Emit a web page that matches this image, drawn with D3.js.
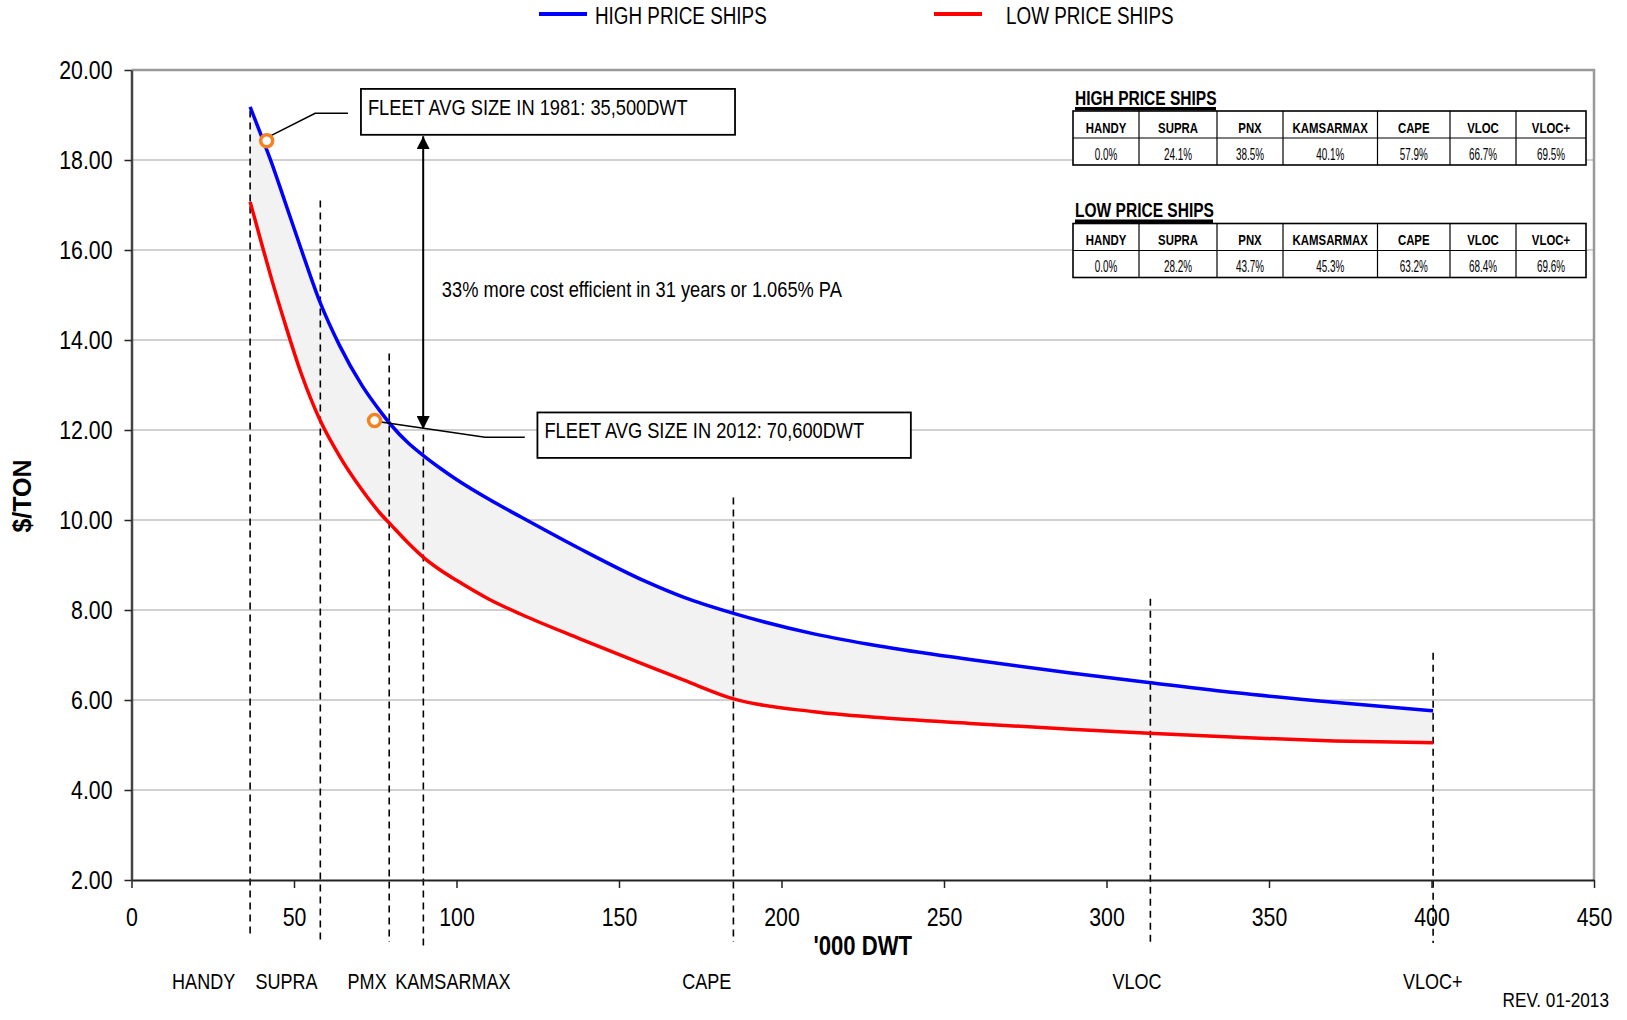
<!DOCTYPE html>
<meta charset="utf-8">
<style>
body { margin: 0; background: #fff; }
svg { display: block; font-family: "Liberation Sans", Arial, sans-serif; }
.grid line { stroke: #c0c0c0; stroke-width: 1.3; }
.boundary { stroke: #000; stroke-width: 1.6; stroke-dasharray: 7,5; }
</style>
<svg width="1627" height="1020"></svg>
<script src="https://d3js.org/d3.v7.min.js"></script>
<script>

// '000 DWT vs $/ton
var dwt = [36.5, 40, 43, 47, 52, 58, 64, 71, 76.5, 80, 85, 90, 95, 100, 110, 120, 138, 158, 170, 185, 210, 230, 258, 289, 313, 340, 370, 400.5];
var highPrice = [19.18, 18.53, 17.96, 17.12, 16.06, 14.84, 13.88, 12.98, 12.42, 12.1, 11.72, 11.42, 11.15, 10.9, 10.46, 10.06, 9.36, 8.64, 8.28, 7.93, 7.47, 7.2, 6.9, 6.6, 6.39, 6.16, 5.95, 5.76];
var lowPrice = [17.07, 16.15, 15.38, 14.42, 13.3, 12.22, 11.42, 10.66, 10.15, 9.88, 9.5, 9.16, 8.89, 8.66, 8.24, 7.9, 7.36, 6.78, 6.44, 6.03, 5.74, 5.61, 5.48, 5.35, 5.26, 5.17, 5.09, 5.05];

// fleet average size markers (1981, 2012)
var fleetX = [41.6, 74.8];
var fleetY = [18.43, 12.21];

// class boundaries (dashed lines) and label positions
var boundaryX = [36.5, 58.1, 79.3, 89.8, 185.2, 313.5, 400.5];
var boundaryTop = [19.1, 17.1, 13.7, 11.9, 10.5, 8.25, 7.05];
var boundaryBottom = [0.7, 0.6, 0.62, 0.45, 0.62, 0.6, 0.6];
var classNames = ["HANDY", "SUPRA", "PMX", "KAMSARMAX", "CAPE", "VLOC", "VLOC+"];
var classLabelX = [22.2, 47.7, 72.5, 98.9, 177, 309.4, 400.4];

var xTicks = [0, 50, 100, 150, 200, 250, 300, 350, 400, 450];
var yTicks = [2, 4, 6, 8, 10, 12, 14, 16, 18, 20];

// tables
var tableCats = ["HANDY", "SUPRA", "PNX", "KAMSARMAX", "CAPE", "VLOC", "VLOC+"];
var highPct = [0.0, 24.1, 38.5, 40.1, 57.9, 66.7, 69.5];
var lowPct = [0.0, 28.2, 43.7, 45.3, 63.2, 68.4, 69.6];

var svg = d3.select("svg");

var x = d3.scaleLinear().domain([0, 450]).range([131.5, 1594]);
var y = d3.scaleLinear().domain([2, 20]).range([880, 70]);

// no narrow font installed, so squeeze text horizontally around its x
function squeeze(sel, k) {
  sel.each(function() {
    var t = d3.select(this);
    var x0 = +t.attr("x") || 0;
    t.attr("transform", "translate(" + x0 * (1 - k) + ",0) scale(" + k + ",1)");
  });
}

svg.append("rect").attr("width", 1627).attr("height", 1020).attr("fill", "#fff");

// gridlines
svg.append("g").attr("class", "grid")
  .selectAll("line")
  .data(yTicks.filter(function(d) { return d > 2 && d < 20; }))
  .enter().append("line")
    .attr("x1", x(0)).attr("x2", x(450))
    .attr("y1", function(d) { return y(d); })
    .attr("y2", function(d) { return y(d); });

// plot frame top/right
svg.append("path")
    .attr("d", "M" + x(0) + "," + y(20) + "H" + x(450) + "V" + y(2))
    .attr("fill", "none").attr("stroke", "#999").attr("stroke-width", 2.5);

var pts = dwt.map(function(d, i) { return {x: d, hi: highPrice[i], lo: lowPrice[i]}; });

svg.append("path")
    .datum(pts)
    .attr("fill", "#f2f2f2")
    .attr("d", d3.area().curve(d3.curveMonotoneX)
      .x(function(d) { return x(d.x); })
      .y0(function(d) { return y(d.lo); })
      .y1(function(d) { return y(d.hi); }));

// dashed class boundaries
svg.append("g").selectAll("line")
  .data(boundaryX)
  .enter().append("line")
    .attr("class", "boundary")
    .attr("x1", function(d) { return x(d); })
    .attr("x2", function(d) { return x(d); })
    .attr("y1", function(d, i) { return y(boundaryTop[i]); })
    .attr("y2", function(d, i) { return y(boundaryBottom[i]); });

var line = d3.line().curve(d3.curveMonotoneX).x(function(d) { return x(d.x); });

svg.append("path").datum(pts)
    .attr("fill", "none").attr("stroke", "#ff0000").attr("stroke-width", 3.5)
    .attr("d", line.y(function(d) { return y(d.lo); }));

svg.append("path").datum(pts)
    .attr("fill", "none").attr("stroke", "#0000ff").attr("stroke-width", 3.5)
    .attr("d", line.y(function(d) { return y(d.hi); }));

// axes
var xAxis = svg.append("g")
    .attr("transform", "translate(0," + y(2) + ")")
    .call(d3.axisBottom(x).tickValues(xTicks).tickSize(8).tickSizeOuter(0).tickPadding(20).tickFormat(d3.format("d")));
xAxis.attr("font-family", null);
xAxis.select(".domain").attr("stroke", "#222").attr("stroke-width", 2);
xAxis.selectAll(".tick line").attr("stroke", "#222").attr("stroke-width", 1.5);
xAxis.selectAll("text").attr("font-size", 26).attr("fill", "#000").call(squeeze, 0.82);

var yAxis = svg.append("g")
    .attr("transform", "translate(" + x(0) + ",0)")
    .call(d3.axisLeft(y).tickValues(yTicks).tickSize(7).tickSizeOuter(0).tickPadding(12).tickFormat(d3.format(".2f")));
yAxis.attr("font-family", null);
yAxis.select(".domain").attr("stroke", "#444").attr("stroke-width", 2.5);
yAxis.selectAll(".tick line").attr("stroke", "#222").attr("stroke-width", 1.5);
yAxis.selectAll("text").attr("font-size", 26).attr("fill", "#000").call(squeeze, 0.82);

svg.append("text")
    .attr("transform", "translate(31,496) rotate(-90)")
    .attr("text-anchor", "middle")
    .attr("font-weight", "bold").attr("font-size", 25)
    .text("$/TON");

svg.append("text")
    .attr("x", (x(0) + x(450)) / 2).attr("y", 955)
    .attr("text-anchor", "middle").attr("font-weight", "bold").attr("font-size", 27)
    .text("'000 DWT")
    .call(squeeze, 0.82);

svg.append("g").selectAll("text")
  .data(classNames)
  .enter().append("text")
    .attr("x", function(d, i) { return x(classLabelX[i]); })
    .attr("y", 989)
    .attr("text-anchor", "middle").attr("font-size", 22)
    .text(function(d) { return d; })
    .call(squeeze, 0.82);

svg.append("text")
    .attr("x", 1609).attr("y", 1007).attr("text-anchor", "end").attr("font-size", 21)
    .text("REV. 01-2013")
    .call(squeeze, 0.82);

// annotations
svg.append("defs").append("marker")
    .attr("id", "arr").attr("viewBox", "0 0 10 10")
    .attr("refX", 10).attr("refY", 5)
    .attr("markerWidth", 13).attr("markerHeight", 13)
    .attr("markerUnits", "userSpaceOnUse")
    .attr("orient", "auto-start-reverse")
  .append("path").attr("d", "M0,0L10,5L0,10Z").attr("fill", "#000");

svg.append("line")
    .attr("x1", x(89.75)).attr("x2", x(89.75))
    .attr("y1", y(18.53)).attr("y2", y(12.02))
    .attr("stroke", "#000").attr("stroke-width", 2)
    .attr("marker-start", "url(#arr)").attr("marker-end", "url(#arr)");

var leaders = [
  [[66.6, 19.04], [56.5, 19.04], [42.6, 18.53]],
  [[121, 11.84], [108.8, 11.84], [74.6, 12.2]]
];
svg.append("g").selectAll("path")
  .data(leaders)
  .enter().append("path")
    .attr("fill", "none").attr("stroke", "#000").attr("stroke-width", 1.6)
    .attr("d", d3.line().x(function(d) { return x(d[0]); }).y(function(d) { return y(d[1]); }));

svg.append("g").selectAll("circle")
  .data(fleetX)
  .enter().append("circle")
    .attr("cx", function(d) { return x(d); })
    .attr("cy", function(d, i) { return y(fleetY[i]); })
    .attr("r", 6)
    .attr("fill", "#fff").attr("stroke", "#f58220").attr("stroke-width", 3.5);

var boxes = [
  {x0: 70.6, x1: 185.7, y0: 19.58, y1: 18.56, text: "FLEET AVG SIZE IN 1981: 35,500DWT"},
  {x0: 124.9, x1: 239.8, y0: 12.39, y1: 11.38, text: "FLEET AVG SIZE IN 2012: 70,600DWT"}
];
var box = svg.append("g").selectAll("g").data(boxes).enter().append("g");
box.append("rect")
    .attr("x", function(d) { return x(d.x0); })
    .attr("y", function(d) { return y(d.y0); })
    .attr("width", function(d) { return x(d.x1) - x(d.x0); })
    .attr("height", function(d) { return y(d.y1) - y(d.y0); })
    .attr("fill", "#fff").attr("stroke", "#000").attr("stroke-width", 1.8);
box.append("text")
    .attr("x", function(d) { return x(d.x0) + 7; })
    .attr("y", function(d) { return y(d.y0) + 26; })
    .attr("font-size", 22)
    .text(function(d) { return d.text; })
    .call(squeeze, 0.83);

svg.append("text")
    .attr("x", x(95.5)).attr("y", y(14.96)).attr("font-size", 22)
    .text("33% more cost efficient in 31 years or 1.065% PA")
    .call(squeeze, 0.83);

// legend
var legend = [
  {name: "HIGH PRICE SHIPS", color: "#0000ff", x: 539},
  {name: "LOW PRICE SHIPS", color: "#ff0000", x: 934}
];
var lg = svg.append("g").selectAll("g").data(legend).enter().append("g")
    .attr("transform", function(d) { return "translate(" + d.x + ",0)"; });
lg.append("line").attr("x1", 0).attr("x2", 48).attr("y1", 14).attr("y2", 14)
    .attr("stroke", function(d) { return d.color; }).attr("stroke-width", 4);
lg.append("text")
    .attr("x", function(d, i) { return i ? 72 : 56; }).attr("y", 24).attr("font-size", 23)
    .text(function(d) { return d.name; })
    .call(squeeze, 0.82);

// tables
var colEdges = [1073, 1139, 1217, 1283, 1377.5, 1450, 1516, 1586];

function drawTable(title, values, top, titleW) {
  var g = svg.append("g");
  var rowH = 27;
  g.append("rect")
      .attr("x", colEdges[0]).attr("y", top - 22)
      .attr("width", colEdges[7] - colEdges[0]).attr("height", rowH * 2 + 22)
      .attr("fill", "#fff");
  g.append("text")
      .attr("x", colEdges[0] + 2).attr("y", top - 6)
      .attr("font-weight", "bold").attr("font-size", 21)
      .text(title)
      .call(squeeze, 0.74);
  g.append("rect")
      .attr("x", colEdges[0] + 2).attr("y", top - 4)
      .attr("width", titleW).attr("height", 3.5)
      .attr("fill", "#000");
  g.append("rect")
      .attr("x", colEdges[0]).attr("y", top)
      .attr("width", colEdges[7] - colEdges[0]).attr("height", rowH * 2)
      .attr("fill", "none").attr("stroke", "#000").attr("stroke-width", 1.6);
  g.append("line")
      .attr("x1", colEdges[0]).attr("x2", colEdges[7])
      .attr("y1", top + rowH).attr("y2", top + rowH)
      .attr("stroke", "#000").attr("stroke-width", 1.2);
  g.selectAll(".sep").data(colEdges.slice(1, 7)).enter().append("line")
      .attr("x1", function(d) { return d; }).attr("x2", function(d) { return d; })
      .attr("y1", top).attr("y2", top + rowH * 2)
      .attr("stroke", "#000").attr("stroke-width", 1.2);
  g.selectAll(".hd").data(tableCats).enter().append("text")
      .attr("x", function(d, i) { return (colEdges[i] + colEdges[i + 1]) / 2; })
      .attr("y", top + 22).attr("text-anchor", "middle")
      .attr("font-weight", "bold").attr("font-size", 15)
      .text(function(d) { return d; })
      .call(squeeze, 0.76);
  g.selectAll(".vl").data(values).enter().append("text")
      .attr("x", function(d, i) { return (colEdges[i] + colEdges[i + 1]) / 2; })
      .attr("y", top + rowH + 22).attr("text-anchor", "middle")
      .attr("font-size", 16)
      .text(function(d) { return d.toFixed(1) + "%"; })
      .call(squeeze, 0.62);
}

drawTable("HIGH PRICE SHIPS", highPct, 111, 141);
drawTable("LOW PRICE SHIPS", lowPct, 223.5, 138);

</script>
